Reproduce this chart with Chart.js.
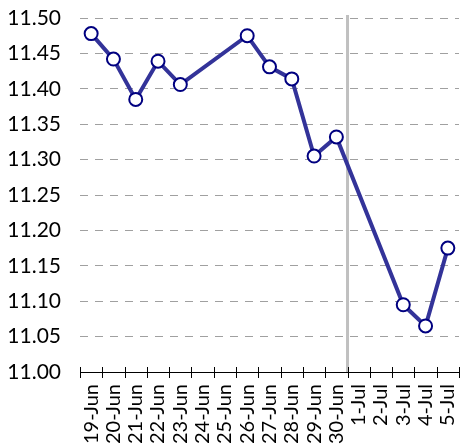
<!DOCTYPE html>
<html><head><meta charset="utf-8">
<script src="https://cdn.jsdelivr.net/npm/chart.js@4/dist/chart.umd.min.js"></script>
<style>html,body{margin:0;padding:0;background:#fff}#wrap{width:460px;height:448px}</style>
</head><body><div id="wrap"><canvas id="c" width="460" height="448"></canvas></div>
<script>
const categories = ["19-Jun","20-Jun","21-Jun","22-Jun","23-Jun","24-Jun","25-Jun","26-Jun","27-Jun","28-Jun","29-Jun","30-Jun","1-Jul","2-Jul","3-Jul","4-Jul","5-Jul"];
const values = [11.478,11.442,11.385,11.439,11.406,null,null,11.475,11.431,11.414,11.305,11.332,null,null,11.095,11.065,11.175];
const yTicks = [11.00,11.05,11.10,11.15,11.20,11.25,11.30,11.35,11.40,11.45,11.50];
const markerAfter = "30-Jun";

const FONT = "Lato, 'DejaVu Sans', sans-serif";

const extras = {
  id: 'extras',
  beforeDatasetsDraw(chart) {
    const {ctx, chartArea: a, scales: {x}} = chart;
    const i = categories.indexOf(markerAfter);
    const px = (x.getPixelForValue(i) + x.getPixelForValue(i + 1)) / 2;
    ctx.save();
    ctx.strokeStyle = '#c0c0c0';
    ctx.lineWidth = 3;
    ctx.beginPath();
    ctx.moveTo(px, a.top - 3);
    ctx.lineTo(px, a.bottom);
    ctx.stroke();
    ctx.restore();
  },
  afterDraw(chart) {
    const {ctx, chartArea: a, scales: {x}} = chart;
    const step = x.getPixelForValue(1) - x.getPixelForValue(0);
    ctx.save();
    ctx.strokeStyle = '#000';
    ctx.lineWidth = 1;
    ctx.beginPath();
    ctx.moveTo(a.left, a.bottom + 0.5);
    ctx.lineTo(a.right, a.bottom + 0.5);
    for (let i = 0; i <= categories.length; i++) {
      let px = x.getPixelForValue(0) - step / 2 + i * step;
      px = Math.round(px) + 0.5;
      ctx.moveTo(px, a.bottom - 5);
      ctx.lineTo(px, a.bottom + 6);
    }
    ctx.stroke();
    ctx.restore();
  }
};

new Chart(document.getElementById('c'), {
  type: 'line',
  data: {
    labels: categories,
    datasets: [{
      data: values,
      borderColor: '#333399',
      borderWidth: 4,
      pointRadius: 6.5,
      pointBorderWidth: 2,
      pointBorderColor: '#000080',
      pointBackgroundColor: '#ffffff',
      spanGaps: true,
      tension: 0,
      clip: false
    }]
  },
  options: {
    responsive: false,
    animation: false,
    layout: {autoPadding: false, padding: {top: 18, right: 1, left: 0, bottom: 0}},
    plugins: {legend: {display: false}, tooltip: {enabled: false}},
    scales: {
      x: {
        offset: true,
        grid: {display: false, drawTicks: false},
        border: {display: false},
        afterFit(scale) { scale.height = 76; scale.paddingLeft = 0; scale.paddingRight = 0; },
        ticks: {
          color: '#000', font: {family: FONT, size: 20},
          maxRotation: 90, minRotation: 90, autoSkip: false, padding: 12
        }
      },
      y: {
        min: 11.0, max: 11.5,
        afterBuildTicks(scale) { scale.ticks = yTicks.map(v => ({value: v})); },
        afterFit(scale) { scale.width = 80; scale.paddingTop = 0; scale.paddingBottom = 0; },
        grid: {
          color: (c) => c.tick && c.tick.value === 11.0 ? 'rgba(0,0,0,0)' : '#a0a0a0',
          lineWidth: 1, drawTicks: false
        },
        border: {display: false, dash: [8, 7]},
        ticks: {
          color: '#000', font: {family: FONT, size: 21}, padding: 19,
          callback: (v) => Number(v).toFixed(2)
        }
      }
    }
  },
  plugins: [extras]
});
</script></body></html>
